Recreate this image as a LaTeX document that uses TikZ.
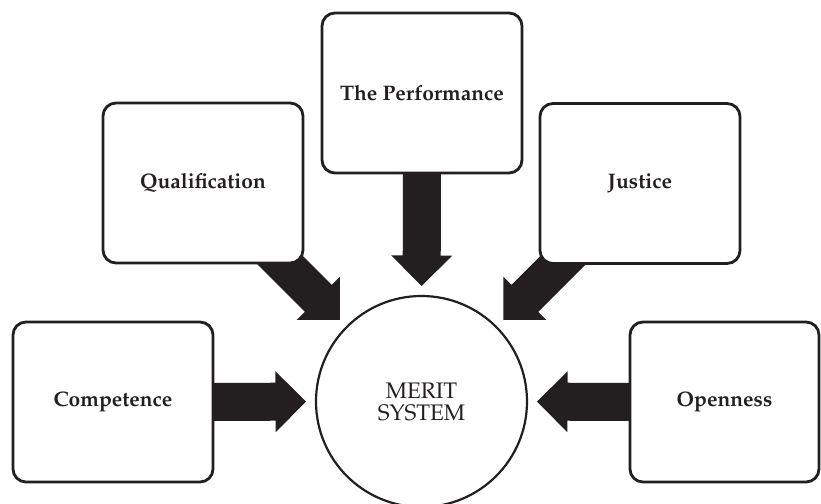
\documentclass[tikz,border=0pt]{standalone}
\usepackage[T1]{fontenc}
\usepackage{mathpazo}
\usetikzlibrary{calc,backgrounds}

\definecolor{ink}{RGB}{35,31,32}

% Thick block arrow from the centre of node #1 towards node #2,
% stopping 10pt short of the circle drawn around #2.
\newcommand\blockarrow[2]{%
  \coordinate (#1-tip)  at ($(#2.center)!115.5pt!(#1.center)$);
  \coordinate (#1-base) at ($(#1-tip)!30.5pt!(#1.center)$);
  \fill[ink]
    ($(#1.center)!19pt!90:(#1-tip)$) --
    ($(#1-base)!19pt!90:(#1-tip)$) --
    ($(#1-base)!30.5pt!90:(#1-tip)$) --
    (#1-tip) --
    ($(#1-base)!30.5pt!-90:(#1-tip)$) --
    ($(#1-base)!19pt!-90:(#1-tip)$) --
    ($(#1.center)!19pt!-90:(#1-tip)$) -- cycle;
}

\begin{document}
\begin{tikzpicture}[
  x=1pt, y=-1pt,
  factor/.style={draw=ink, line width=2.8pt, fill=white,
    rounded corners=13pt, minimum width=200pt, minimum height=160pt,
    inner sep=0pt, text=ink,
    font=\fontsize{21}{25}\selectfont\bfseries},
  hub/.style={circle, draw=ink, line width=2.2pt, fill=white,
    minimum size=211pt, inner sep=0pt, align=center, text=ink,
    font=\fontsize{22.5}{22}\selectfont}
]
\useasboundingbox (0,0) rectangle (821,503);

% outer factors
\node[factor] (qual) at (203,183)   {Qualification};
\node[factor] (perf) at (422,93)    {The Performance};
\node[factor] (just) at (640,183.5) {Justice};
\node[factor] (comp) at (113,402)   {Competence};
\node[factor, minimum width=189pt] (open) at (724.5,402) {Openness};

% central concept
\node[hub] (merit) at (421.5,401.5) {MERIT\\SYSTEM};

% block arrows, behind the boxes
\begin{scope}[on background layer]
  \blockarrow{qual}{merit}
  \blockarrow{perf}{merit}
  \blockarrow{just}{merit}
  \blockarrow{comp}{merit}
  \blockarrow{open}{merit}
\end{scope}
\end{tikzpicture}
\end{document}
